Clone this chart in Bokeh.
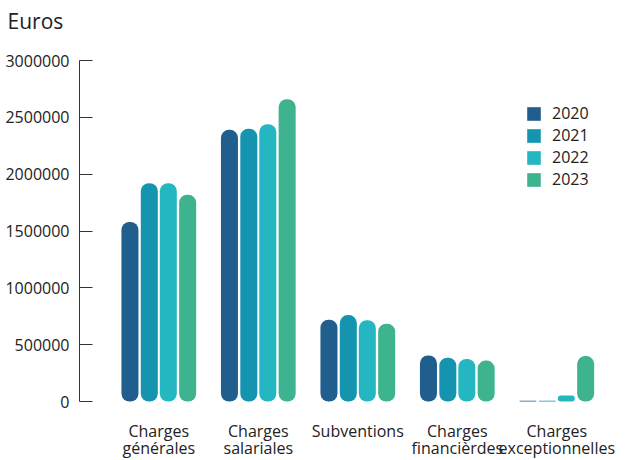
from bokeh.plotting import figure
from bokeh.models import Range1d, FixedTicker, BasicTickFormatter, Legend, LegendItem, ColumnDataSource
from bokeh.core.properties import value
from bokeh.embed import file_html
from bokeh.resources import INLINE

categories = ["Charges\ngénérales", "Charges\nsalariales", "Subventions",
              "Charges\nfinancièrdes", "Charges\nexceptionnelles"]
years = ["2020", "2021", "2022", "2023"]
v2020 = [1580000, 2390000, 720000, 405000, 6000]
v2021 = [1920000, 2400000, 760000, 385000, 6000]
v2022 = [1920000, 2440000, 715000, 375000, 53000]
v2023 = [1820000, 2660000, 685000, 360000, 400000]
y_ticks = [0, 500000, 1000000, 1500000, 2000000, 2500000, 3000000]
unit_title = "Euros"

series = [v2020, v2021, v2022, v2023]
colors = ["#205e8e", "#1494ae", "#24b7c2", "#3eb38f"]
offsets = [-0.29, -0.0955, 0.0955, 0.29]
FONT = "Open Sans"

Y_MAX = 3000000
# 341 px hold 0..Y_MAX; frame extends 24 px above (room for the title) and 57 px below (labels)
y_end = Y_MAX * (1 + 24 / 341)
y_start = -Y_MAX * 57 / 341

p = figure(width=626, height=458, output_backend="svg", toolbar_location=None,
           x_range=Range1d(-0.797, 4.63), y_range=Range1d(y_start, y_end),
           min_border_left=79, min_border_right=7, min_border_top=36, min_border_bottom=0,
           outline_line_color=None)
p.grid.grid_line_color = None
p.background_fill_color = "white"

p.title.text = unit_title
p.title.text_font = FONT
p.title.text_font_size = "21px"
p.title.text_font_style = "normal"
p.title.text_color = "#222222"
p.title.offset = -72
p.title.standoff = 0
p.title.vertical_align = "top"

idx = list(range(len(categories)))
items = []
for yr, vals, col, off in zip(years, series, colors, offsets):
    src = ColumnDataSource(dict(x=[i + off for i in idx], top=vals))
    r = p.vbar(x="x", top="top", bottom=0, width=0.171, source=src,
               fill_color=col, line_color=None, border_radius=8)
    items.append(LegendItem(label=yr, renderers=[r]))

# category labels under each group
lab_src = ColumnDataSource(dict(x=idx, y=[0] * len(idx), text=categories))
p.text(x="x", y="y", text="text", source=lab_src, text_font=value(FONT),
       text_font_size="16px", text_color="#222222", text_align="center",
       text_baseline="top", y_offset=18, text_line_height=0.8)

legend = Legend(items=items, location=(446, 268), padding=0, margin=0,
                border_line_color=None, background_fill_alpha=0,
                glyph_width=17, glyph_height=17, label_height=17, spacing=-2,
                label_standoff=10, label_text_font=FONT, label_text_font_size="16px",
                label_text_color="#222222")
p.add_layout(legend, "center")

# y axis
ya = p.yaxis[0]
ya.bounds = (0, Y_MAX)
ya.ticker = FixedTicker(ticks=y_ticks)
ya.formatter = BasicTickFormatter(use_scientific=False)
ya.major_tick_in = 13
ya.major_tick_out = 0
ya.minor_tick_line_color = None
ya.axis_line_color = "#333333"
ya.major_tick_line_color = "#333333"
ya.major_label_text_font = FONT
ya.major_label_text_font_size = "16px"
ya.major_label_text_color = "#222222"
ya.major_label_standoff = 10

p.xaxis.visible = False

open("out.html", "w").write(file_html(p, INLINE))
